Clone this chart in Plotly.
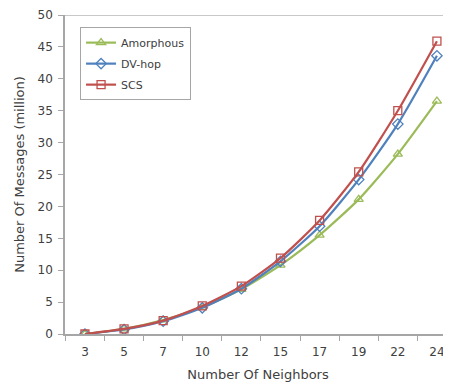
import plotly.graph_objects as go

neighbors = ["3", "5", "7", "10", "12", "15", "17", "19", "22", "24"]
amorphous = [0.0, 0.8, 2.2, 4.2, 7.0, 10.8, 15.5, 21.1, 28.2, 36.5]
dv_hop = [0.0, 0.7, 2.0, 4.1, 7.1, 11.4, 16.9, 24.2, 32.9, 43.6]
scs = [0.0, 0.8, 2.1, 4.4, 7.5, 11.9, 17.8, 25.4, 35.0, 45.9]
y_ticks = [0, 5, 10, 15, 20, 25, 30, 35, 40, 45, 50]

font = "DejaVu Sans"
txt = "#404040"

fig = go.Figure()
series = [
    ("Amorphous", amorphous, "#9BBB59", "triangle-up-open"),
    ("DV-hop", dv_hop, "#4F81BD", "diamond-open"),
    ("SCS", scs, "#C0504D", "square-open"),
]
for i, (name, vals, col, sym) in enumerate(series):
    fig.add_trace(go.Scatter(
        x=neighbors, y=vals, name=name, mode="lines+markers",
        legendgroup=f"g{i}",
        line=dict(color=col, width=2.2, shape="spline", smoothing=0.6),
        marker=dict(symbol=sym, size=8, color=col, line=dict(width=1.3)),
    ))

fig.add_shape(type="line", xref="paper", yref="y", x0=0, x1=1, y0=50, y1=50,
              line=dict(color="#C8C8C8", width=2))

# page body has an 8px margin, so the figure is 8px smaller and offset
fig.update_layout(
    width=443, height=378,
    margin=dict(l=57, r=0, t=7, b=52),
    paper_bgcolor="white", plot_bgcolor="white",
    font=dict(family=font, size=11, color=txt),
    showlegend=True,
    legend=dict(x=0.039, y=0.962, xanchor="left", yanchor="top",
                bgcolor="white", bordercolor="#A6A6A6", borderwidth=1,
                traceorder="grouped", tracegroupgap=2,
                font=dict(family=font, size=11, color=txt)),
    xaxis=dict(type="category", range=[-0.51, 9.36],
               showgrid=False, zeroline=False,
               showline=True, linecolor="#A6A6A6", linewidth=1.5,
               ticks="outside", ticklen=5, tickcolor="#A6A6A6", tickson="boundaries",
               ticklabelstandoff=6,
               title=dict(text="Number Of Neighbors", font=dict(size=13, color=txt), standoff=12),
               tickfont=dict(size=12, color=txt)),
    yaxis=dict(range=[0, 50], tickvals=y_ticks,
               showgrid=False, zeroline=False,
               showline=True, linecolor="#A6A6A6", linewidth=1.5,
               ticks="outside", ticklen=5, tickcolor="#A6A6A6",
               ticklabelstandoff=3,
               title=dict(text="Number Of Messages (million)", font=dict(size=13, color=txt), standoff=10),
               tickfont=dict(size=12, color=txt)),
)

fig.write_html("out.html")
